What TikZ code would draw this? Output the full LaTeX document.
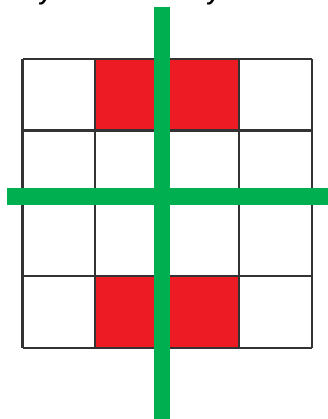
\documentclass[tikz,border=0pt]{standalone}
\usepackage{fontspec}
\setmainfont{Liberation Sans}
\definecolor{cellred}{HTML}{ED1C24}
\definecolor{bargreen}{HTML}{00B050}
\begin{document}
\begin{tikzpicture}[x=1pt,y=-1pt,
  gridline/.style={draw=black!80,line width=2.6pt},
  redcell/.style={fill=cellred},
  bar/.style={fill=bargreen},
  toptext/.style={font=\fontsize{22}{22}\selectfont\bfseries\itshape,anchor=base,inner sep=0pt}]
\useasboundingbox (0,0) rectangle (328,419);
\clip (0,0) rectangle (328,419);
% cropped text at top
\node[toptext] (t1) at (46,0.5) {y};
\node[toptext] (t2) at (214,0.5) {y};
% red cells
\fill[redcell] (94.8,59) rectangle (239,130.8);
\fill[redcell] (94.8,276) rectangle (239,348);
% grid
\foreach \x in {22.5,94.8,167,239,312} \draw[gridline] (\x,59) -- (\x,348);
\foreach \y in {59,130.8,203,276,348} \draw[gridline] (22.5,\y) -- (312,\y);
% green bars
\fill[bar] (153.5,7) rectangle (170,419);
\fill[bar] (7,188.5) rectangle (328,205);
\end{tikzpicture}
\end{document}
